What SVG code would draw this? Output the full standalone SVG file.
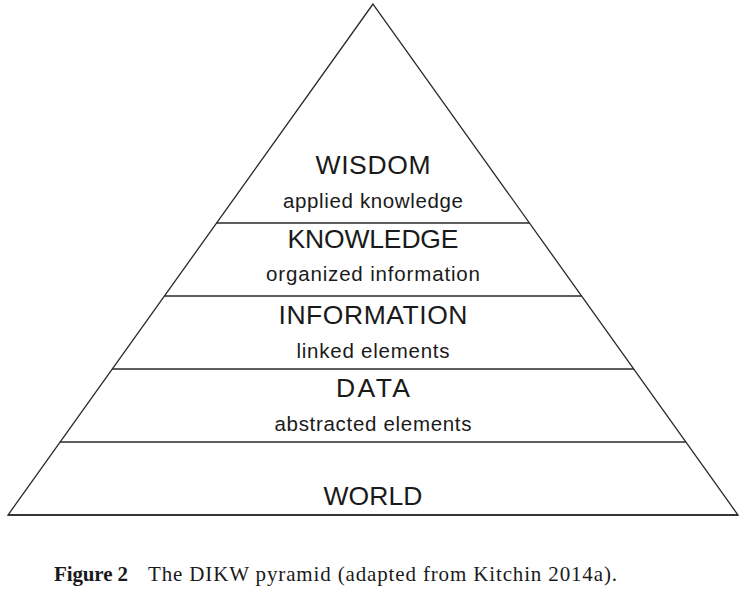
<svg xmlns="http://www.w3.org/2000/svg" width="743" height="590" viewBox="0 0 743 590">
  <style>
    .edge { stroke: #2a2a2a; stroke-width: 1.3; fill: none; }
    .title { font-family: "Liberation Sans", "DejaVu Sans", sans-serif; font-size: 26.5px; fill: #1a1a1a; text-anchor: middle; }
    .sub { font-family: "Liberation Sans", "DejaVu Sans", sans-serif; font-size: 20.5px; fill: #1a1a1a; text-anchor: middle; }
    .cap { font-family: "Liberation Serif", "DejaVu Serif", serif; font-size: 21px; fill: #1a1a1a; }
  </style>
  <rect width="743" height="590" fill="#ffffff"/>

  <!-- outline and tier dividers -->
  <g id="connectors">
    <polygon class="edge" points="373,4 8,515 738,515"/>
    <line class="edge" x1="216.4" y1="223" x2="529.6" y2="223"/>
    <line class="edge" x1="164.2" y1="296" x2="581.8" y2="296"/>
    <line class="edge" x1="112" y1="369" x2="634" y2="369"/>
    <line class="edge" x1="59.8" y1="442" x2="686.2" y2="442"/>
    <line class="edge" x1="8" y1="515" x2="738" y2="515" stroke-width="1.6"/>
  </g>

  <g id="wisdom">
    <text class="title" x="373" y="174" textLength="115">WISDOM</text>
    <text class="sub" x="373" y="208" textLength="180">applied knowledge</text>
  </g>
  <g id="knowledge">
    <text class="title" x="373" y="248" textLength="171">KNOWLEDGE</text>
    <text class="sub" x="373" y="281" textLength="214">organized information</text>
  </g>
  <g id="information">
    <text class="title" x="373" y="324" textLength="189">INFORMATION</text>
    <text class="sub" x="373" y="358" textLength="153">linked elements</text>
  </g>
  <g id="data">
    <text class="title" x="373" y="397" textLength="74">DATA</text>
    <text class="sub" x="373" y="431" textLength="197">abstracted elements</text>
  </g>
  <g id="world">
    <text class="title" x="373" y="505" textLength="99">WORLD</text>
  </g>

  <g id="caption">
    <text class="cap" x="54" y="581" font-weight="bold" textLength="74">Figure 2</text>
    <text class="cap" x="148" y="581" textLength="469">The DIKW pyramid (adapted from Kitchin 2014a).</text>
  </g>
</svg>
